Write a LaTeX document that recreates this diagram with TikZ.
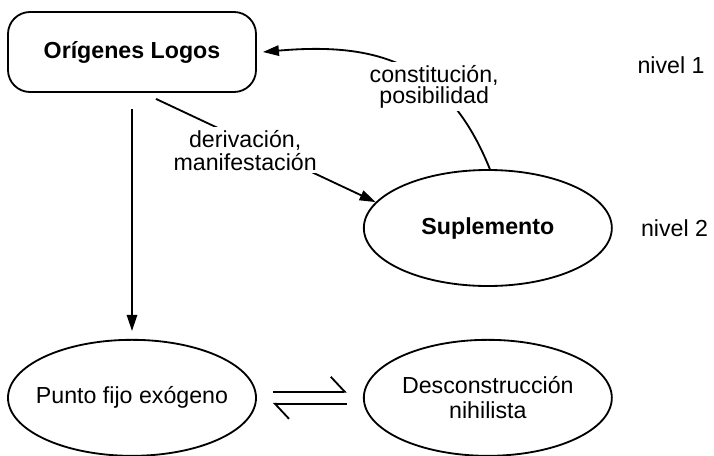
\documentclass[tikz,border=0pt]{standalone}
\usepackage{fontspec}
\setmainfont{Liberation Sans}
\usepackage{tikz}
\usetikzlibrary{arrows.meta,positioning,shapes.geometric}

\begin{document}
\begin{tikzpicture}[
  font=\fontsize{16.5}{17}\selectfont,
  box/.style={draw,rounded corners=0.55cm,line width=1.3pt,minimum width=6.2cm,minimum height=2cm,font=\fontsize{16.5}{17}\selectfont\bfseries},
  oval/.style={draw,ellipse,line width=1.3pt,minimum width=6.2cm,minimum height=2.9cm,inner xsep=-0.4cm,inner ysep=0pt,align=center},
  lbl/.style={align=center,inner sep=2pt},
  arr/.style={-{Triangle[length=4mm,width=2.6mm]},line width=1.3pt},
  harp/.style={-{Straight Barb[left,length=3.5mm,width=7.5mm]},line width=1.3pt,shorten <=0.4cm,shorten >=0.4cm}
]
\useasboundingbox (0,0) rectangle (17.85,-11.375);
\node[box] (logos) at (3.3,-1.3) {Orígenes Logos};
\node[oval,below=6.15cm of logos] (punto) {Punto fijo exógeno};
\node[oval,right=2.65cm of punto,font=\fontsize{16.5}{17.7}\selectfont] (descon) {Desconstrucción\\nihilista};
\node[oval,above=1.3cm of descon,font=\fontsize{16.5}{17}\selectfont\bfseries] (suple) {Suplemento};
\node[lbl,right=0.63cm of suple] (nivel2) {nivel 2};
\node[lbl,anchor=west] (nivel1) at (15.86,-1.625) {nivel 1};
\draw[arr] ([xshift=0.6cm,yshift=-0.15cm]logos.south) -- node[lbl,fill=white,pos=0.406,yshift=-0.235cm,font=\fontsize{16.5}{16.5}\selectfont]{derivación,\\manifestación} (suple.167);
\draw[arr] (suple.88) to[out=112,in=5,looseness=1.15] node[lbl,fill=white,pos=0.35,font=\fontsize{16.5}{13}\selectfont]{constitución,\\posibilidad} ([xshift=0.15cm]logos.east);
\draw[arr,shorten <=0.4cm,shorten >=0.2cm] (logos) -- (punto);
\draw[harp] ([yshift=0.15cm]punto.east) -- ([yshift=0.15cm]descon.west);
\draw[harp] ([yshift=-0.15cm]descon.west) -- ([yshift=-0.15cm]punto.east);
\end{tikzpicture}
\end{document}
